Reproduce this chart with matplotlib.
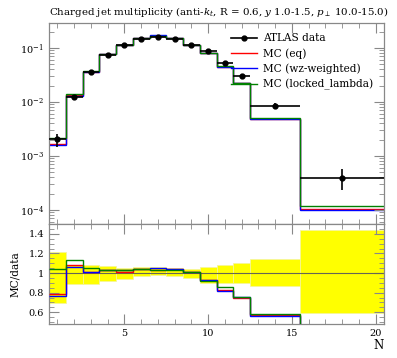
import numpy as np
import matplotlib
matplotlib.use("Agg")
import matplotlib.pyplot as plt
from matplotlib.lines import Line2D
from matplotlib.ticker import MultipleLocator, FixedLocator, LogLocator, NullFormatter

# ---- data ----
bin_edges = [0.5, 1.5, 2.5, 3.5, 4.5, 5.5, 6.5, 7.5, 8.5, 9.5, 10.5, 11.5, 12.5, 15.5, 20.5]
data_x = [1, 2, 3, 4, 5, 6, 7, 8, 9, 10, 11, 12, 14, 18]
data_y = [2.1e-3, 0.0124, 0.036, 0.074, 0.112, 0.145, 0.162, 0.146, 0.113, 0.088,
          0.053, 0.0296, 0.0085, 3.9e-4]
# relative uncertainty band (upper / lower edge of ratio band)
band_hi = [1.21, 1.085, 1.085, 1.075, 1.055, 1.06, 1.06, 1.05, 1.04, 1.06, 1.085, 1.10, 1.146, 1.44]
band_lo = [0.69, 0.89, 0.885, 0.92, 0.94, 0.965, 0.975, 0.965, 0.95, 0.90, 0.898, 0.90, 0.867, 0.59]

mc_eq = [1.66e-3, 0.0134, 0.0364, 0.0762, 0.1137, 0.1515, 0.1677, 0.1518, 0.1147, 0.0814,
         0.0440, 0.0222, 0.00485, 1.05e-4]
mc_wz = [1.61e-3, 0.0131, 0.0364, 0.0762, 0.1150, 0.1508, 0.1696, 0.1518, 0.1147, 0.0818,
         0.0435, 0.0225, 0.00480, 9.8e-5]
mc_locked = [2.18e-3, 0.0140, 0.0378, 0.0762, 0.1150, 0.1508, 0.1664, 0.1504, 0.1147, 0.0805,
             0.0453, 0.0225, 0.00497, 1.17e-4]

series = [("MC (eq)", mc_eq, "red"),
          ("MC (wz-weighted)", mc_wz, "blue"),
          ("MC (locked_lambda)", mc_locked, "green")]

title = r"Charged jet multiplicity (anti-$k_t$, R = 0.6, $y$ 1.0-1.5, $p_\perp$ 10.0-15.0)"

plt.rcParams['font.family'] = ['DejaVu Serif']
plt.rcParams['mathtext.fontset'] = 'dejavuserif'

fig = plt.figure(figsize=(3.97, 3.58), dpi=100)
L, R = 49 / 397, 384 / 397
ax = fig.add_axes([L, 1 - 224 / 358, R - L, (224 - 23) / 358])
axr = fig.add_axes([L, 1 - 324 / 358, R - L, (324 - 224) / 358], sharex=ax)

edges = np.array(bin_edges)
dx = np.array(data_x)
dy = np.array(data_y)
bh = np.array(band_hi)
bl = np.array(band_lo)
xerr = [dx - edges[:-1], edges[1:] - dx]
yerr = [dy * (1 - bl), dy * (bh - 1)]

# ---- main panel ----
handles = []
labels = []
for label, vals, col in series:
    v = np.array(vals)
    ax.stairs(v, edges, color=col, lw=1.0, baseline=None)
    handles.append(Line2D([], [], color=col, lw=1.0))
    labels.append(label)
ax.errorbar(dx, dy, xerr=xerr, yerr=yerr, fmt='o', color='black', ms=3.5, lw=1.2,
            capsize=0, zorder=5)
handles.insert(0, Line2D([], [], color='black', lw=1.2, marker='o', ms=3.5))
labels.insert(0, "ATLAS data")

ax.set_yscale('log')
ax.set_ylim(10 ** -4.26, 10 ** -0.54)
ax.set_xlim(0.5, 20.5)
ax.set_title(title, fontsize=7.35, loc='left', x=0.0, pad=6)

ax.legend(handles, labels, loc='upper right', frameon=False, fontsize=7.6,
          handlelength=2.4, handletextpad=0.6, borderaxespad=0.3,
          labelspacing=0.45, bbox_to_anchor=(0.99, 0.985))

# ---- ratio panel ----
for i in range(len(dx)):
    axr.fill_between([edges[i], edges[i + 1]], bl[i], bh[i], color='#ffff00',
                     edgecolor='#f4f4a0', lw=0.5, zorder=1)
axr.axhline(1.0, color='#666655', lw=0.8, zorder=2)
for label, vals, col in series:
    ratio = np.array(vals) / dy
    axr.stairs(ratio, edges, color=col, lw=1.0, baseline=None, zorder=3)
axr.set_ylim(0.48, 1.5)
axr.set_ylabel("MC/data", fontsize=7.6, labelpad=6)
axr.set_xlabel("N", fontsize=8.5, loc='right', labelpad=1)

# ---- tick styling ----
for a in (ax, axr):
    a.tick_params(which='both', direction='in', top=True, right=True, labelsize=7,
                  color='#888888')
    a.tick_params(which='major', length=7)
    a.tick_params(which='minor', length=3.5)
    for s in a.spines.values():
        s.set_color('#888888')
        s.set_linewidth(0.9)
    a.xaxis.set_major_locator(MultipleLocator(5))
    a.xaxis.set_minor_locator(MultipleLocator(1))
ax.yaxis.set_major_locator(LogLocator(base=10, numticks=10))
ax.yaxis.set_minor_locator(LogLocator(base=10, subs=np.arange(2, 10), numticks=20))
ax.yaxis.set_minor_formatter(NullFormatter())
plt.setp(ax.get_xticklabels(), visible=False)
axr.yaxis.set_major_locator(FixedLocator([0.6, 0.8, 1.0, 1.2, 1.4]))
axr.yaxis.set_minor_locator(MultipleLocator(0.05))
axr.set_yticklabels(["0.6", "0.8", "1", "1.2", "1.4"])

fig.savefig("out.png", dpi=100)
